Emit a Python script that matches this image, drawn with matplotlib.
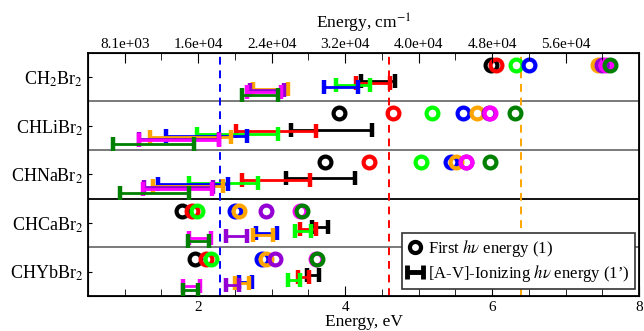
import numpy as np
import matplotlib
matplotlib.use("Agg")
import matplotlib.pyplot as plt
from matplotlib.ticker import MultipleLocator, FixedLocator

plt.rcParams['font.family'] = ['Liberation Serif', 'DejaVu Serif']
plt.rcParams['mathtext.fontset'] = 'stix'

# molecules, top row first
molecules = ['CH$_2$Br$_2$', 'CHLiBr$_2$', 'CHNaBr$_2$', 'CHCaBr$_2$', 'CHYbBr$_2$']
# one colour per method
colors = ['black', '#ff0000', '#00ff00', '#0000ff', '#ffa500', '#9400d3', '#ff00ff', '#008000']

# first h-nu energy (eV), one row per molecule, one entry per colour
first_hv = [
    [5.98, 6.06, 6.32, 6.50, 7.44, 7.49, 7.55, 7.60],
    [3.92, 4.65, 5.18, 5.61, 5.80, 5.96, 5.97, 6.31],
    [3.72, 4.33, 5.03, 5.44, 5.51, 5.64, 5.65, 5.97],
    [1.78, 1.91, 1.98, 2.50, 2.56, 2.92, 3.39, 3.42],
    [1.96, 2.10, 2.18, 2.87, 2.93, 3.04, 3.61, 3.62],
]
# [A-V]-ionizing h-nu energy range (eV)
ion_lo = [
    [4.22, 4.15, 3.88, 3.71, 2.74, 2.70, 2.66, 2.60],
    [3.26, 2.51, 1.98, 1.56, 1.35, 1.19, 1.19, 0.84],
    [3.20, 2.59, 1.88, 1.45, 1.38, 1.26, 1.25, 0.93],
    [3.55, 3.39, 3.32, 2.79, 2.74, 2.38, 1.88, 1.86],
    [3.48, 3.36, 3.22, 2.55, 2.50, 2.38, 1.80, 1.80],
]
ion_hi = [
    [4.68, 4.61, 4.34, 4.17, 3.22, 3.17, 3.13, 3.08],
    [4.36, 3.61, 3.09, 2.66, 2.45, 2.29, 2.29, 1.94],
    [4.13, 3.52, 2.82, 2.40, 2.34, 2.20, 2.19, 1.87],
    [3.77, 3.60, 3.53, 3.07, 3.02, 2.67, 2.18, 2.15],
    [3.65, 3.51, 3.39, 2.73, 2.69, 2.55, 2.02, 2.00],
]
# reference levels (eV)
ref_lines = [2.3, 4.6, 6.4]
ref_colors = ['#0000ff', '#ff0000', '#ffa500']

ev_to_cm = 8065.54

fig = plt.figure(figsize=(6.44, 3.31), dpi=100)
ax = fig.add_axes([0.1366, 0.106, 0.8556, 0.735])

n = len(molecules)
bar_off = [0.42, 0.38, 0.33, 0.29, 0.26, 0.23, 0.20, 0.12]

for i in range(n):
    base = n - 1 - i
    for j, c in enumerate(colors):
        lo, hi = ion_lo[i][j], ion_hi[i][j]
        ax.errorbar((lo + hi) / 2, base + bar_off[j], xerr=(hi - lo) / 2,
                    fmt='none', ecolor=c, elinewidth=2, capsize=5,
                    capthick=3.2, zorder=3)
    for j, c in enumerate(colors):
        ax.plot(first_hv[i][j], base + 0.75, 'o', ms=8.5, mfc='none',
                mec=c, mew=3, zorder=4)

for k in range(1, n):
    ax.axhline(k, color='black' if k == 2 else '#707070', lw=1.3, zorder=2)

for x, c in zip(ref_lines, ref_colors):
    ax.axvline(x, color=c, ls=(0, (4, 3)), lw=1.4, zorder=2)

ax.set_xlim(0.5, 8)
ax.set_ylim(0, n)
ax.set_yticks([n - 0.5 - i for i in range(n)])
ax.set_yticklabels(molecules, fontsize=13)
ax.xaxis.set_major_locator(FixedLocator([2, 4, 6, 8]))
ax.xaxis.set_minor_locator(MultipleLocator(0.5))
ax.tick_params(axis='x', which='major', direction='in', length=7, labelsize=11)
ax.tick_params(axis='x', which='minor', direction='in', length=5)
ax.tick_params(axis='y', direction='in', length=3)
ax.set_xlabel('Energy, eV', fontsize=12.5, labelpad=0)
for sp in ax.spines.values():
    sp.set_linewidth(1.3)

top = ax.twiny()
top.set_xlim(ax.get_xlim())
top_ticks = [1, 2, 3, 4, 5, 6, 7]
top.xaxis.set_major_locator(FixedLocator(top_ticks))
top.set_xticklabels(['%.1e' % (t * ev_to_cm) for t in top_ticks])
top.xaxis.set_minor_locator(MultipleLocator(0.5))
top.tick_params(axis='x', which='major', direction='in', length=7, labelsize=11, pad=1)
top.tick_params(axis='x', which='minor', direction='in', length=5)
top.set_xlabel('Energy, cm$^{-1}$', fontsize=12.5, labelpad=7)

h1, = ax.plot([], [], 'o', ms=8, mfc='none', mec='black', mew=3)
h2 = ax.errorbar([np.nan], [np.nan], xerr=[0.1], fmt='none', ecolor='black',
                 elinewidth=3.5, capsize=5, capthick=3.5)
leg = ax.legend([h1, h2], ['First $h\\nu$ energy (1)',
                           "[A-V]-Ionizing $h\\nu$ energy (1\u2019)"],
                loc='lower right', bbox_to_anchor=(0.993, 0.03), fontsize=12,
                fancybox=False, framealpha=1, edgecolor='#333333',
                handlelength=1.0, handletextpad=0.3, borderpad=0.3,
                labelspacing=0.2, borderaxespad=0)
leg.get_frame().set_linewidth(1.2)

fig.savefig('out.png', dpi=100)
